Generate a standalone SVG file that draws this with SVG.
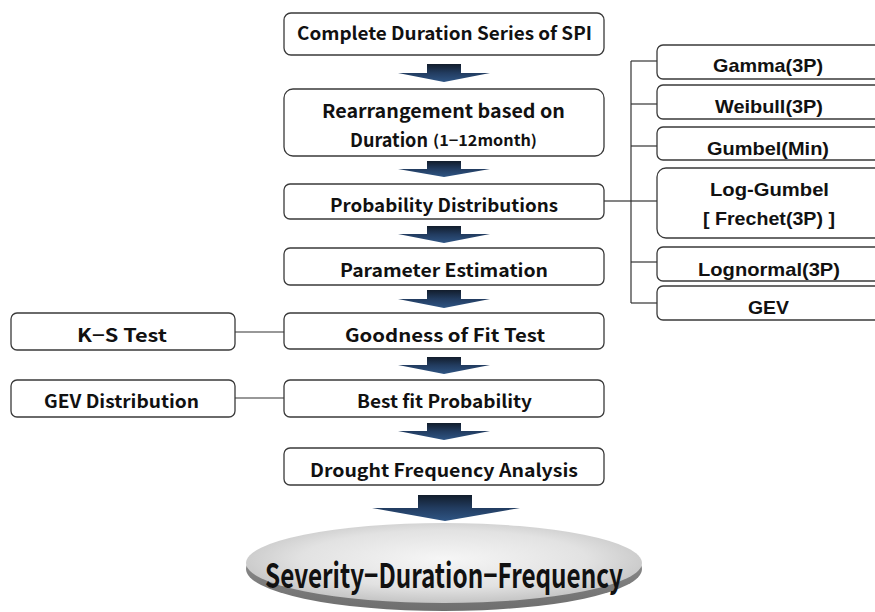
<svg xmlns="http://www.w3.org/2000/svg" width="875" height="612" viewBox="0 0 875 612">
<defs>
<linearGradient id="ag" x1="0" y1="0" x2="0" y2="1">
<stop offset="0" stop-color="#121d2c"/>
<stop offset="0.5" stop-color="#223c60"/>
<stop offset="1" stop-color="#2f5584"/>
</linearGradient>
<radialGradient id="eg" cx="0.5" cy="0.45" r="0.6">
<stop offset="0" stop-color="#f6f6f6"/>
<stop offset="0.6" stop-color="#e2e2e2"/>
<stop offset="1" stop-color="#bdbdbd"/>
</radialGradient>
<linearGradient id="rim" x1="0" y1="0" x2="0" y2="1">
<stop offset="0" stop-color="#9a9a9a"/>
<stop offset="1" stop-color="#6e6e6e"/>
</linearGradient>
</defs>
<style>
.box{fill:#ffffff;stroke:#3a3a3a;stroke-width:1.3}
.t{font-family:"Noto Sans CJK KR","Noto Sans",sans-serif;font-weight:bold;font-size:18px;fill:#111}
.t19{font-size:19px}
.t15{font-size:15px}
.big{font-size:34px}
.r{font-family:"Liberation Sans",Arial,sans-serif;font-weight:bold;font-size:19px;fill:#111}
.ln{stroke:#333;stroke-width:1.2;fill:none}
.arr{fill:url(#ag)}
</style>
<rect width="875" height="612" fill="#ffffff"/>

<g id="connectors">
<line class="ln" x1="235" y1="332" x2="284" y2="332"/>
<line class="ln" x1="235" y1="398" x2="284" y2="398"/>
<line class="ln" x1="604" y1="201" x2="631" y2="201"/>
<line class="ln" x1="631" y1="61" x2="631" y2="303"/>
<line class="ln" x1="631" y1="61" x2="657" y2="61"/>
<line class="ln" x1="631" y1="104" x2="657" y2="104"/>
<line class="ln" x1="631" y1="146" x2="657" y2="146"/>
<line class="ln" x1="631" y1="201" x2="657" y2="201"/>
<line class="ln" x1="631" y1="262" x2="657" y2="262"/>
<line class="ln" x1="631" y1="303" x2="657" y2="303"/>
<path class="arr" d="M427,64 H461 V73 H490 L444,82 L398,73 H427 Z"/>
<path class="arr" d="M427,161 H461 V169 H490 L444,177 L398,169 H427 Z"/>
<path class="arr" d="M427,226 H461 V234 H490 L444,243 L398,234 H427 Z"/>
<path class="arr" d="M427,290 H461 V299 H490 L444,308 L398,299 H427 Z"/>
<path class="arr" d="M427,357 H461 V365 H490 L444,374 L398,365 H427 Z"/>
<path class="arr" d="M427,423 H461 V431 H490 L444,440 L398,431 H427 Z"/>
<path class="arr" d="M418,495 H472 V508 H520 L445,521 L372,508 H418 Z"/>
</g>

<g id="n-complete">
<rect class="box" x="284" y="13" width="320" height="42" rx="7"/>
<text class="t" x="297" y="40" textLength="295" lengthAdjust="spacingAndGlyphs">Complete Duration Series of SPI</text>
</g>
<g id="n-rearrange">
<rect class="box" x="284" y="89" width="320" height="67" rx="9"/>
<text class="t t19" x="322" y="118" textLength="243" lengthAdjust="spacingAndGlyphs">Rearrangement based on</text>
<text class="t t19" x="350" y="147" textLength="78" lengthAdjust="spacingAndGlyphs">Duration</text>
<text class="t t15" x="433" y="146" textLength="104" lengthAdjust="spacingAndGlyphs">(1−12month)</text>
</g>
<g id="n-prob">
<rect class="box" x="284" y="184" width="320" height="35" rx="6"/>
<text class="t" x="330" y="212" textLength="228" lengthAdjust="spacingAndGlyphs">Probability Distributions</text>
</g>
<g id="n-param">
<rect class="box" x="284" y="248" width="320" height="37" rx="6"/>
<text class="t" x="340" y="277" textLength="208" lengthAdjust="spacingAndGlyphs">Parameter Estimation</text>
</g>
<g id="n-gof">
<rect class="box" x="284" y="313" width="320" height="36" rx="6"/>
<text class="t" x="345" y="342" textLength="200" lengthAdjust="spacingAndGlyphs">Goodness of Fit Test</text>
</g>
<g id="n-best">
<rect class="box" x="284" y="380" width="320" height="37" rx="6"/>
<text class="t" x="357" y="408" textLength="175" lengthAdjust="spacingAndGlyphs">Best fit Probability</text>
</g>
<g id="n-drought">
<rect class="box" x="284" y="448" width="320" height="37" rx="6"/>
<text class="t" x="310" y="477" textLength="268" lengthAdjust="spacingAndGlyphs">Drought Frequency Analysis</text>
</g>
<g id="n-ks">
<rect class="box" x="11" y="313" width="224" height="37" rx="6"/>
<text class="t" x="77" y="342" textLength="90" lengthAdjust="spacingAndGlyphs">K−S Test</text>
</g>
<g id="n-gevdist">
<rect class="box" x="11" y="380" width="224" height="37" rx="6"/>
<text class="t" x="44" y="408" textLength="155" lengthAdjust="spacingAndGlyphs">GEV Distribution</text>
</g>

<g id="n-gamma">
<rect class="box" x="657" y="45" width="230" height="34" rx="6"/>
<text class="r" x="713" y="72" textLength="110" lengthAdjust="spacingAndGlyphs">Gamma(3P)</text>
</g>
<g id="n-weibull">
<rect class="box" x="657" y="85" width="230" height="34" rx="6"/>
<text class="r" x="715" y="113" textLength="108" lengthAdjust="spacingAndGlyphs">Weibull(3P)</text>
</g>
<g id="n-gumbel">
<rect class="box" x="657" y="127" width="230" height="33" rx="6"/>
<text class="r" x="707" y="155" textLength="122" lengthAdjust="spacingAndGlyphs">Gumbel(Min)</text>
</g>
<g id="n-loggumbel">
<rect class="box" x="657" y="168" width="230" height="70" rx="9"/>
<text class="r" x="710" y="196" textLength="119" lengthAdjust="spacingAndGlyphs">Log-Gumbel</text>
<text class="r" x="703" y="225" textLength="132" lengthAdjust="spacingAndGlyphs">[ Frechet(3P) ]</text>
</g>
<g id="n-lognormal">
<rect class="box" x="657" y="247" width="230" height="34" rx="6"/>
<text class="r" x="698" y="276" textLength="142" lengthAdjust="spacingAndGlyphs">Lognormal(3P)</text>
</g>
<g id="n-gev">
<rect class="box" x="657" y="286" width="230" height="34" rx="6"/>
<text class="r" x="748" y="314" textLength="41" lengthAdjust="spacingAndGlyphs">GEV</text>
</g>

<g id="n-sdf">
<ellipse cx="444" cy="569" rx="198" ry="42" fill="url(#rim)"/>
<ellipse cx="444" cy="563" rx="198" ry="40" fill="url(#eg)"/>
<text class="t big" x="265" y="588" textLength="358" lengthAdjust="spacingAndGlyphs">Severity−Duration−Frequency</text>
</g>
</svg>
